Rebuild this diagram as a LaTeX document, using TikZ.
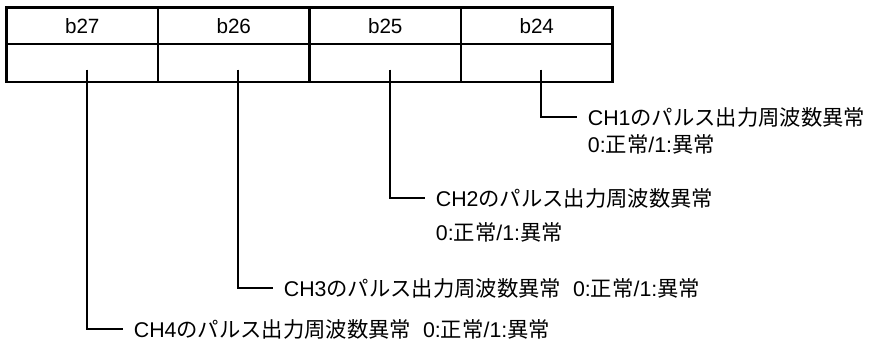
\documentclass[tikz,border=0pt]{standalone}
\usepackage{fontspec}
\setmainfont{Liberation Sans}
\newfontfamily\jp{Noto Sans CJK JP}
\usetikzlibrary{calc,positioning}

\begin{document}
\begin{tikzpicture}[x=0.75pt, y=-0.75pt,
        cell/.style={rectangle, draw=black, line width=1.6pt, outer sep=0pt,
            minimum width=113.6pt, minimum height=27.4pt, font=\fontsize{15.5}{17}\selectfont},
        lbl/.style={anchor=west, inner xsep=8pt, inner ysep=0pt, font=\fontsize{16}{18}\selectfont},
        wire/.style={line width=1.6pt}
    ]
    \useasboundingbox (0,0) rectangle (870,341);
    % bit table
    \foreach \b [count=\i] in {27,26,25,24} {
        \node[cell] (h\b) at ({82.25+151.5*(\i-1)},25.75) {b\b};
        \node[cell, minimum height=28.5pt, below=0pt of h\b] (v\b) {};
        \coordinate (s\b) at ([xshift=3.4pt, yshift=-5pt]v\b.center);
    }
    % labels
    \node[lbl] (ch1) at (577,117) {CH1{\jp のパルス出力周波数異常}};
    \node[lbl] (ch1s) at (577,144) {0:{\jp 正常}/1:{\jp 異常}};
    \node[lbl] (ch2) at (425,198) {CH2{\jp のパルス出力周波数異常}};
    \node[lbl] (ch2s) at (425,232) {0:{\jp 正常}/1:{\jp 異常}};
    \node[lbl] (ch3) at (273,288) {CH3{\jp のパルス出力周波数異常}\ \ 0:{\jp 正常}/1:{\jp 異常}};
    \node[lbl] (ch4) at (123,329) {CH4{\jp のパルス出力周波数異常}\ \ 0:{\jp 正常}/1:{\jp 異常}};
    % connectors
    \draw[wire] (s24) |- (ch1.west);
    \draw[wire] (s25) |- (ch2.west);
    \draw[wire] (s26) |- (ch3.west);
    \draw[wire] (s27) |- (ch4.west);
\end{tikzpicture}
\end{document}
